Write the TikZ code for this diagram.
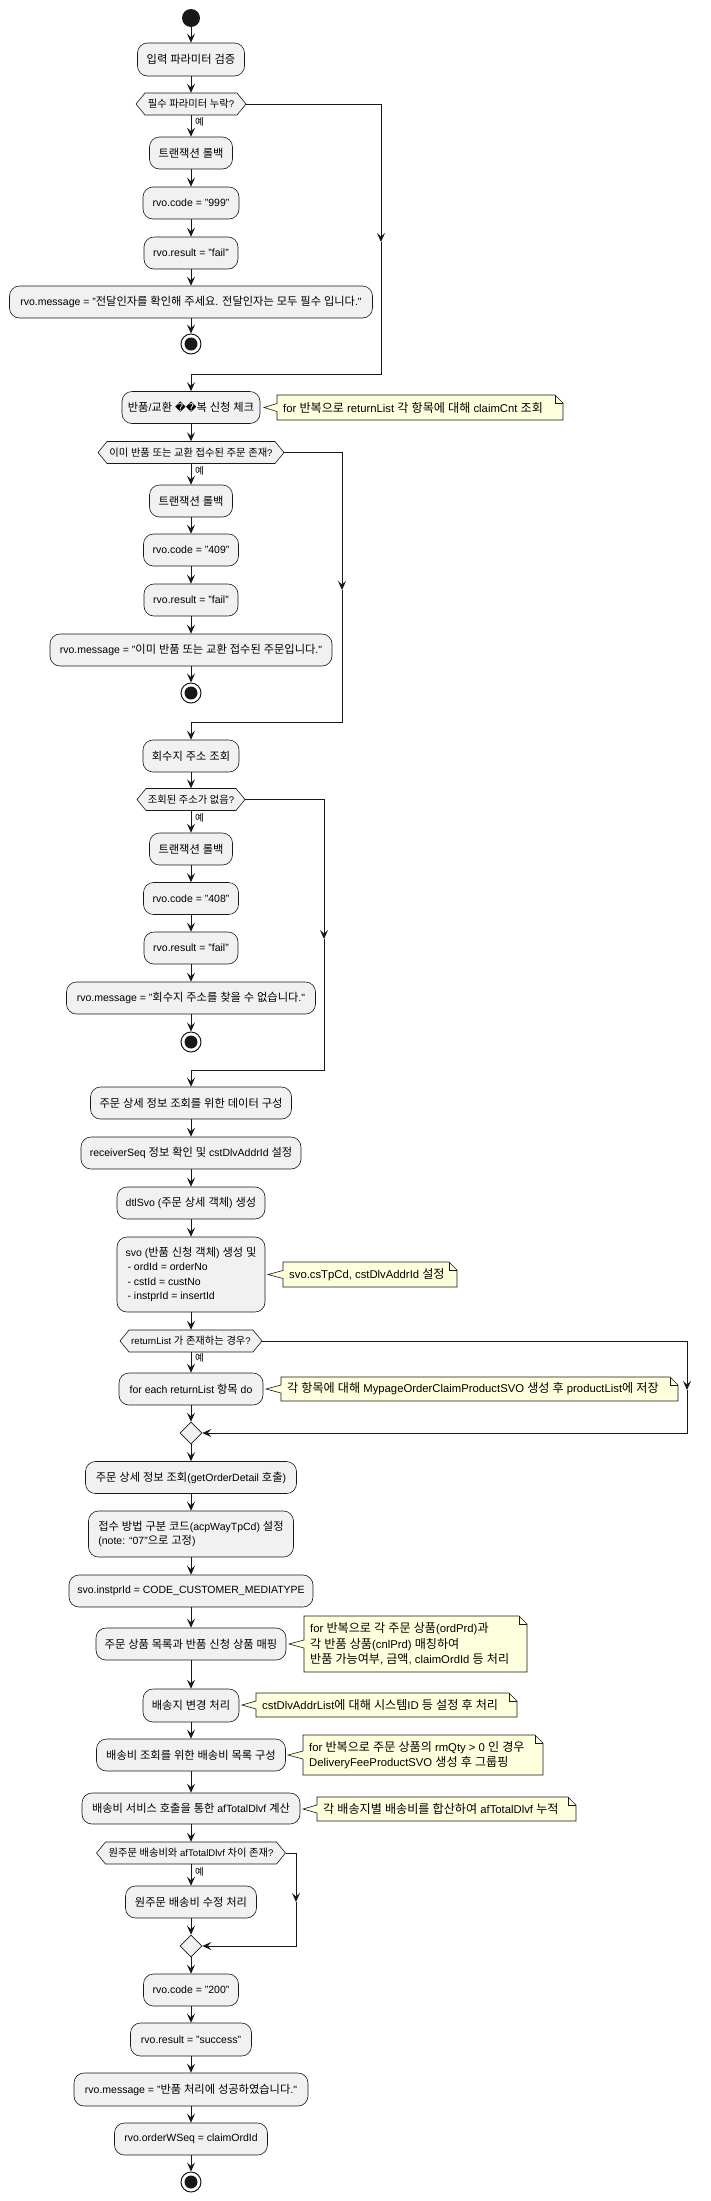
\documentclass[tikz,border=0pt]{standalone}
\usepackage{fontspec}
\setmainfont{Liberation Sans}
\newfontfamily\lafont{Liberation Sans}
\newfontfamily\krfont[Scale=1.07]{Noto Sans CJK KR}
\newfontfamily\djv{DejaVu Sans}
\usetikzlibrary{arrows.meta,shapes.geometric}
% automatic switch to the Korean font for Hangul syllables
\XeTeXinterchartokenstate=1
\count255="AC00
\loop
  \XeTeXcharclass\count255=10
  \ifnum\count255<"D7A3
  \advance\count255 by 1
\repeat
\XeTeXinterchartoks 0 10 = {\krfont}
\XeTeXinterchartoks 1 10 = {\krfont}
\XeTeXinterchartoks 2 10 = {\krfont}
\XeTeXinterchartoks 3 10 = {\krfont}
\XeTeXinterchartoks 4095 10 = {\krfont}
\XeTeXinterchartoks 10 0 = {\lafont}
\XeTeXinterchartoks 10 1 = {\lafont}
\XeTeXinterchartoks 10 2 = {\lafont}
\XeTeXinterchartoks 10 3 = {\lafont}
\XeTeXinterchartoks 10 4095 = {\lafont}
\definecolor{boxfill}{HTML}{F1F1F1}
\definecolor{bd}{HTML}{181818}
\definecolor{notefill}{HTML}{FEFFDD}
\newcommand\actF{\fontsize{10.5}{14.3}\selectfont}
\newcommand\noteF{\fontsize{11.3}{15.3}\selectfont}
\newcommand\decF{\fontsize{9.6}{12}\selectfont}
\newcommand\yesF{\fontsize{9}{11}\selectfont}
\tikzset{
  act/.style={draw=bd, fill=boxfill, line width=0.6pt, rounded corners=10pt, inner sep=0pt, font=\actF, align=center},
  flow/.style={draw=bd, line width=1pt, -{Stealth[length=9pt,width=8pt,inset=3.5pt]}},
  hexs/.style={draw=bd, fill=boxfill, line width=0.6pt},
  dtext/.style={inner sep=0pt, font=\decF},
  notes/.style={draw=bd, fill=notefill, line width=0.6pt},
  ntext/.style={inner sep=0pt, font=\noteF, align=left, anchor=west},
  yes/.style={inner sep=0pt, font=\yesF, anchor=west},
  startc/.style={circle, fill=bd, minimum size=18pt, inner sep=0pt},
  endc/.style={circle, draw=bd, fill=white, line width=1pt, minimum size=20pt, inner sep=0pt,
    path picture={\fill[bd] (path picture bounding box.center) circle (6.5pt);}},
  merge/.style={diamond, draw=bd, fill=boxfill, line width=0.6pt, minimum width=22pt, minimum height=22pt, inner sep=0pt},
}
% name, cx, cy, width, height, text
\newcommand\act[6]{\node[act, minimum width=#4pt, minimum height=#5pt] (#1) at (#2,#3) {#6};}
% name, cx, cy, halfwidth, text
\newcommand\hexa[5]{%
  \path[hexs] (#2-#4,#3) -- (#2-#4+9,#3-11) -- (#2+#4-9,#3-11) -- (#2+#4,#3)
     -- (#2+#4-9,#3+11) -- (#2-#4+9,#3+11) -- cycle;
  \node[dtext, minimum width={2*#4}, minimum height=22] (#1) at (#2,#3) {#5};}
% name, left, top, right, bottom, tip x, centre y, text
\newcommand\notebox[8]{%
  \path[notes] (#2,#3) -- (#4-8,#3) -- (#4,#3+8) -- (#4,#5) -- (#2,#5) -- (#2,#7+4)
     -- (#6,#7) -- (#2,#7-4) -- cycle;
  \draw[bd, line width=0.6pt] (#4-8,#3) -- (#4-8,#3+8) -- (#4,#3+8);
  \node[ntext] (#1) at (#2+6,#7) {#8};}
\begin{document}
\begin{tikzpicture}[x=1pt,y=-1pt]
\useasboundingbox (0,0) rectangle (710,2201);
\fill[white] (0,0) rectangle (710,2201);
% ---- section 1
\node[startc] (st) at (191,18) {};
\act{a1}{191}{59.5}{107}{33}{입력 파라미터 검증}
\hexa{d1}{191}{104}{55}{필수 파라미터 누락?}
\node[yes] (y1) at (195,122) {예};
\act{r1}{191}{153}{83}{32}{트랜잭션 롤백}
\act{c1}{191}{203}{96}{32}{rvo.code = "999"}
\act{res1}{191}{253}{94}{32}{rvo.result = "fail"}
\act{m1}{191}{302}{363}{32}{rvo.message = "전달인자를 확인해 주세요. 전달인자는 모두 필수 입니다."}
\node[endc] (e1) at (191,344) {};
% ---- section 2
\act{b2}{191}{407.5}{138}{32}{반품/교환 {\djv ��}복 신청 체크}
\notebox{n1}{277}{395}{563}{420}{264}{407.5}{for 반복으로 returnList 각 항목에 대해 claimCnt 조회}
\hexa{d2}{191}{452.5}{93}{이미 반품 또는 교환 접수된 주문 존재?}
\node[yes] (y2) at (195,470.5) {예};
\act{r2}{191}{501}{83}{32}{트랜잭션 롤백}
\act{c2}{191}{550}{95}{32}{rvo.code = "409"}
\act{res2}{191}{600}{94}{32}{rvo.result = "fail"}
\act{m2}{191}{650}{282}{32}{rvo.message = "이미 반품 또는 교환 접수된 주문입니다."}
\node[endc] (e2) at (191,693) {};
% ---- section 3
\act{b3}{191}{756}{96}{32}{회수지 주소 조회}
\hexa{d3}{191}{799.5}{54}{조회된 주소가 없음?}
\node[yes] (y3) at (195,818) {예};
\act{r3}{191}{849}{83}{32}{트랜잭션 롤백}
\act{c3}{191}{898.5}{95}{32}{rvo.code = "408"}
\act{res3}{191}{948}{94}{32}{rvo.result = "fail"}
\act{m3}{191}{998}{249}{32}{rvo.message = "회수지 주소를 찾을 수 없습니다."}
\node[endc] (e3) at (191,1042) {};
% ---- section 4
\act{b4}{191}{1103}{201}{32}{주문 상세 정보 조회를 위한 데이터 구성}
\act{b5}{191}{1153}{220}{32}{receiverSeq 정보 확인 및 cstDlvAddrId 설정}
\act{b6}{191}{1203}{148}{32}{dtlSvo (주문 상세 객체) 생성}
\node[act, align=left, minimum width=148pt, minimum height=75pt] (b7) at (191,1274.5)
  {svo (반품 신청 객체) 생성 및\\\hspace{2pt}- ordId = orderNo\\\hspace{2pt}- cstId = custNo\\\hspace{2pt}- instprId = insertId};
\notebox{n2}{283}{1262}{457}{1287}{268}{1274.5}{svo.csTpCd, cstDlvAddrId 설정}
\hexa{d4}{191}{1341}{71}{returnList 가 존재하는 경우?}
\node[yes] (y4) at (195,1358) {예};
\act{b8}{191}{1389}{144}{32}{for each returnList 항목 do}
\notebox{n3}{281}{1377}{678}{1401}{266}{1389}{각 항목에 대해 MypageOrderClaimProductSVO 생성 후 productList에 저장}
\node[merge] (mg1) at (191,1433) {};
\act{b9}{191}{1477.5}{211}{32}{주문 상세 정보 조회(getOrderDetail 호출)}
\node[act, align=left, minimum width=205pt, minimum height=46pt] (b10) at (191,1534)
  {접수 방법 구분 코드(acpWayTpCd) 설정\\(note: “07”으로 고정)};
\act{b11}{191}{1591}{244}{32}{svo.instprId = CODE\_CUSTOMER\_MEDIATYPE}
\act{b12}{191}{1644}{190}{32}{주문 상품 목록과 반품 신청 상품 매핑}
\notebox{n4}{304}{1616}{527}{1672}{289}{1644}{for 반복으로 각 주문 상품(ordPrd)과\\각 반품 상품(cnlPrd) 매칭하여\\반품 가능여부, 금액, claimOrdId 등 처리}
\act{b13}{191}{1705.5}{96}{33}{배송지 변경 처리}
\notebox{n5}{256}{1693}{517}{1717}{242}{1705}{cstDlvAddrList에 대해 시스템ID 등 설정 후 처리}
\act{b14}{191}{1755}{189}{32}{배송비 조회를 위한 배송비 목록 구성}
\notebox{n6}{303}{1735}{543}{1775}{288}{1755}{for 반복으로 주문 상품의 rmQty > 0 인 경우\\DeliveryFeeProductSVO 생성 후 그룹핑}
\act{b15}{191}{1808.5}{218}{31}{배송비 서비스 호출을 통한 afTotalDlvf 계산}
\notebox{n7}{317}{1797}{576}{1821}{303}{1809}{각 배송지별 배송비를 합산하여 afTotalDlvf 누적}
\hexa{d5}{191}{1853}{94.5}{원주문 배송비와 afTotalDlvf 차이 존재?}
\node[yes] (y5) at (195,1872) {예};
\act{b16}{191}{1902}{131}{32}{원주문 배송비 수정 처리}
\node[merge] (mg2) at (191,1946) {};
\act{c4}{191}{1990}{95}{32}{rvo.code = "200"}
\act{res4}{191}{2039.5}{121}{33}{rvo.result = "success"}
\act{m4}{191}{2089.5}{234}{33}{rvo.message = "반품 처리에 성공하였습니다."}
\act{ow}{191}{2139}{153}{32}{rvo.orderWSeq = claimOrdId}
\node[endc] (e4) at (191,2182) {};
% ---- connectors, section 1
\draw[flow] (st.south) -- (a1.north);
\draw[flow] (a1.south) -- (d1.north);
\draw[flow] (d1.south) -- (r1.north);
\draw[flow] (r1.south) -- (c1.north);
\draw[flow] (c1.south) -- (res1.north);
\draw[flow] (res1.south) -- (m1.north);
\draw[flow] (m1.south) -- (e1.north);
\coordinate (j1) at (381,242);
\coordinate (k1) at (191,374);
\draw[flow] (d1.east) -| (j1);
\draw[flow] (j1) |- (k1) -- (b2.north);
% section 2
\draw[flow] (b2.south) -- (d2.north);
\draw[flow] (d2.south) -- (r2.north);
\draw[flow] (r2.south) -- (c2.north);
\draw[flow] (c2.south) -- (res2.north);
\draw[flow] (res2.south) -- (m2.north);
\draw[flow] (m2.south) -- (e2.north);
\coordinate (j2) at (342,590);
\coordinate (k2) at (191,722);
\draw[flow] (d2.east) -| (j2);
\draw[flow] (j2) |- (k2) -- (b3.north);
% section 3
\draw[flow] (b3.south) -- (d3.north);
\draw[flow] (d3.south) -- (r3.north);
\draw[flow] (r3.south) -- (c3.north);
\draw[flow] (c3.south) -- (res3.north);
\draw[flow] (res3.south) -- (m3.north);
\draw[flow] (m3.south) -- (e3.north);
\coordinate (j3) at (324,939);
\coordinate (k3) at (191,1070);
\draw[flow] (d3.east) -| (j3);
\draw[flow] (j3) |- (k3) -- (b4.north);
% section 4
\draw[flow] (b4.south) -- (b5.north);
\draw[flow] (b5.south) -- (b6.north);
\draw[flow] (b6.south) -- (b7.north);
\draw[flow] (b7.south) -- (d4.north);
\draw[flow] (d4.south) -- (b8.north);
\draw[flow] (b8.south) -- (mg1.north);
\coordinate (j4) at (687,1390);
\draw[flow] (d4.east) -| (j4);
\draw[flow] (j4) |- (mg1.east);
\draw[flow] (mg1.south) -- (b9.north);
\draw[flow] (b9.south) -- (b10.north);
\draw[flow] (b10.south) -- (b11.north);
\draw[flow] (b11.south) -- (b12.north);
\draw[flow] (b12.south) -- (b13.north);
\draw[flow] (b13.south) -- (b14.north);
\draw[flow] (b14.south) -- (b15.north);
\draw[flow] (b15.south) -- (d5.north);
\draw[flow] (d5.south) -- (b16.north);
\draw[flow] (b16.south) -- (mg2.north);
\coordinate (j5) at (296,1902);
\draw[flow] (d5.east) -| (j5);
\draw[flow] (j5) |- (mg2.east);
\draw[flow] (mg2.south) -- (c4.north);
\draw[flow] (c4.south) -- (res4.north);
\draw[flow] (res4.south) -- (m4.north);
\draw[flow] (m4.south) -- (ow.north);
\draw[flow] (ow.south) -- (e4.north);
\end{tikzpicture}
\end{document}
